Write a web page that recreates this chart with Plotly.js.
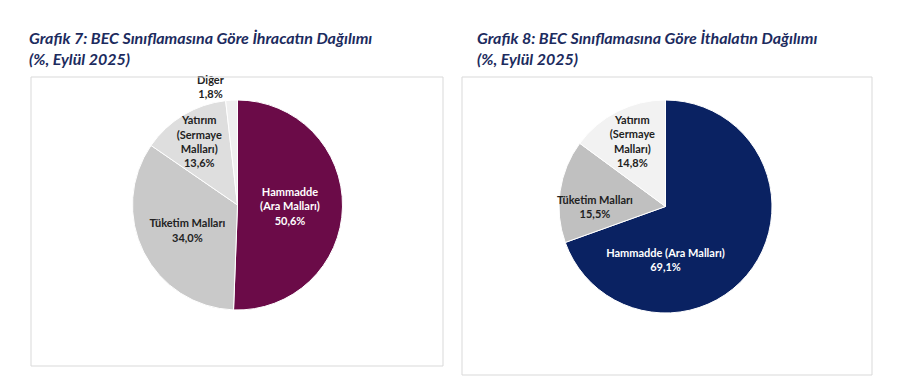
<!DOCTYPE html>
<html>
<head>
<meta charset="utf-8">
<script src="https://cdn.plot.ly/plotly-3.0.1.min.js"></script>
<style>html,body{margin:0;padding:0;background:#fff;}#chart{width:900px;height:379px;}</style>
</head>
<body>
<div id="chart"></div>
<script>
// Grafik 7 - İhracat
const exportLabels = ["Hammadde<br>(Ara Malları)", "Tüketim Malları", "Yatırım<br>(Sermaye<br>Malları)", "Diğer"];
const exportValues = [50.6, 34.0, 13.6, 1.8];
const exportColors = ["#6B0B48", "#C9C9C9", "#DEDEDE", "#EFEFEF"];

// Grafik 8 - İthalat
const importLabels = ["Hammadde (Ara Malları)", "Tüketim Malları", "Yatırım<br>(Sermaye<br>Malları)"];
const importValues = [69.1, 15.5, 14.8];
const importColors = ["#0A2262", "#C0C0C0", "#F2F2F2"];

const titles = [
  "Grafik 7: BEC Sınıflamasına Göre İhracatın Dağılımı<br>(%, Eylül 2025)",
  "Grafik 8: BEC Sınıflamasına Göre İthalatın Dağılımı<br>(%, Eylül 2025)"
];

const fmt = v => v.toFixed(1).replace('.', ',') + '%';
const mkText = (labels, values) => labels.map((l, i) => l + '<br>' + fmt(values[i]));

const W = 900, H = 379;
const px = x => x / W, py = y => 1 - y / H;

const labelFont = {family: 'Lato, "Open Sans", sans-serif', size: 11, weight: 'bold'};

const traces = [
  {
    type: 'pie', labels: exportLabels, values: exportValues, text: mkText(exportLabels, exportValues),
    textinfo: 'text', sort: false, direction: 'clockwise', rotation: 0,
    marker: {colors: exportColors, line: {color: '#FFFFFF', width: 1}},
    textposition: ['inside', 'inside', 'inside', 'outside'],
    insidetextorientation: 'horizontal',
    insidetextfont: {color: ['#FFFFFF', '#222222', '#222222', '#222222']},
    outsidetextfont: {color: '#222222'},
    textfont: labelFont,
    domain: {x: [px(132), px(343)], y: [py(310), py(100)]},
    showlegend: false, hoverinfo: 'label+percent'
  },
  {
    type: 'pie', labels: importLabels, values: importValues, text: mkText(importLabels, importValues),
    textinfo: 'text', sort: false, direction: 'clockwise', rotation: 0,
    marker: {colors: importColors, line: {color: '#FFFFFF', width: 1}},
    textposition: 'inside', insidetextorientation: 'horizontal',
    insidetextfont: {color: ['#FFFFFF', '#222222', '#222222']},
    textfont: labelFont,
    domain: {x: [px(552), px(779)], y: [py(313), py(100)]},
    showlegend: false, hoverinfo: 'label+percent'
  }
];

const titleFont = {family: 'Lato, "Open Sans", sans-serif', size: 16, color: '#1C2B5E', weight: 'bold', style: 'italic'};

const layout = {
  width: W, height: H,
  margin: {l: 0, r: 0, t: 0, b: 0},
  paper_bgcolor: '#FFFFFF',
  uniformtext: {minsize: 11, mode: 'show'},
  shapes: [
    {type: 'rect', xref: 'paper', yref: 'paper', x0: px(31), x1: px(443), y0: py(366), y1: py(77), line: {color: '#D9D9D9', width: 1}},
    {type: 'rect', xref: 'paper', yref: 'paper', x0: px(462), x1: px(872), y0: py(375), y1: py(77), line: {color: '#D9D9D9', width: 1}}
  ],
  annotations: [
    {xref: 'paper', yref: 'paper', x: px(27), y: py(26), xanchor: 'left', yanchor: 'top', align: 'left', showarrow: false, text: titles[0], font: titleFont},
    {xref: 'paper', yref: 'paper', x: px(475), y: py(26), xanchor: 'left', yanchor: 'top', align: 'left', showarrow: false, text: titles[1], font: titleFont}
  ]
};

Plotly.newPlot('chart', traces, layout, {displayModeBar: false, staticPlot: true});
</script>
</body>
</html>
